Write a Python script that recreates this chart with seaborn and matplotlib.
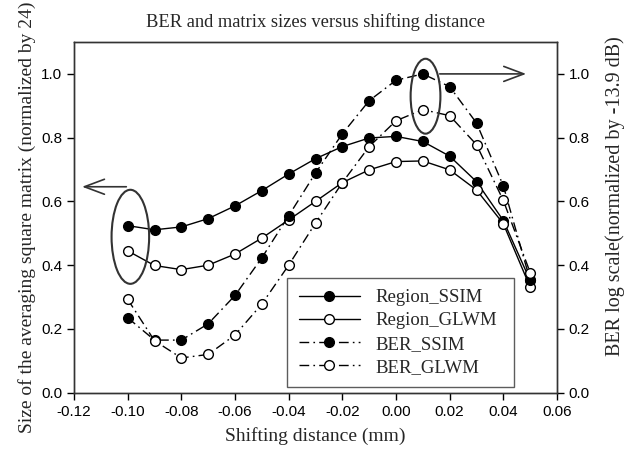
import numpy as np
import pandas as pd
import matplotlib
matplotlib.use("Agg")
import matplotlib.pyplot as plt
from matplotlib.patches import Ellipse
from matplotlib.lines import Line2D
import seaborn as sns

shift = [-0.10, -0.09, -0.08, -0.07, -0.06, -0.05, -0.04, -0.03, -0.02, -0.01,
         0.00, 0.01, 0.02, 0.03, 0.04, 0.05]
region_ssim = [0.524, 0.511, 0.520, 0.546, 0.586, 0.634, 0.686, 0.734, 0.772, 0.799,
               0.804, 0.788, 0.742, 0.662, 0.540, 0.352]
region_glwm = [0.445, 0.399, 0.386, 0.400, 0.435, 0.485, 0.542, 0.600, 0.659, 0.699,
               0.725, 0.727, 0.699, 0.636, 0.530, 0.331]
ber_ssim = [0.235, 0.165, 0.165, 0.216, 0.305, 0.423, 0.555, 0.689, 0.812, 0.916,
            0.980, 1.000, 0.960, 0.846, 0.649, 0.352]
ber_glwm = [0.293, 0.163, 0.109, 0.120, 0.181, 0.278, 0.400, 0.532, 0.659, 0.772,
            0.853, 0.888, 0.869, 0.778, 0.603, 0.377]
series_names = ["Region_SSIM", "Region_GLWM", "BER_SSIM", "BER_GLWM"]
yticks = [0.0, 0.2, 0.4, 0.6, 0.8, 1.0]
xticks = [-0.12, -0.10, -0.08, -0.06, -0.04, -0.02, 0.00, 0.02, 0.04, 0.06]

sns.set_style("ticks")
plt.rcParams["font.family"] = ["Liberation Sans", "DejaVu Sans"]
serif = ["Liberation Serif", "DejaVu Serif"]

fig = plt.figure(figsize=(6.25, 4.49), dpi=100)
ax = fig.add_axes([0.1184, 0.1254, 0.7728, 0.781])

dashdot = (7, 3, 1.2, 3)
styles = {
    "Region_SSIM": dict(mfc="black", ls="-"),
    "Region_GLWM": dict(mfc="white", ls="-"),
    "BER_SSIM": dict(mfc="black", ls="dd"),
    "BER_GLWM": dict(mfc="white", ls="dd"),
}
values = {"Region_SSIM": region_ssim, "Region_GLWM": region_glwm,
          "BER_SSIM": ber_ssim, "BER_GLWM": ber_glwm}

handles = []
for name in series_names:
    df = pd.DataFrame({"x": shift, "y": values[name]})
    st = styles[name]
    sns.lineplot(data=df, x="x", y="y", ax=ax, color="black", lw=1.0,
                 marker="o", markersize=7, markerfacecolor=st["mfc"],
                 markeredgecolor="black", markeredgewidth=1.0, zorder=3)
    line = ax.lines[-1]
    if st["ls"] == "dd":
        line.set_dashes(dashdot)
    h = Line2D([], [], color="black", lw=1.0, marker="o", markersize=7,
               markerfacecolor=st["mfc"], markeredgecolor="black")
    if st["ls"] == "dd":
        h.set_dashes(dashdot)
    handles.append(h)

ax.set_xlim(-0.12, 0.06)
ax.set_ylim(0, 1.1)
ax.set_xticks(xticks)
ax.set_xticklabels([f"{v:.2f}" for v in xticks])
ax.set_yticks(yticks)
ax.set_yticklabels([f"{v:.1f}" for v in yticks])
ax.tick_params(labelsize=11, direction="out", length=5, width=1, colors="black")
for s in ax.spines.values():
    s.set_linewidth(1.0)
    s.set_color("#333333")
    s.set_visible(True)

ax.set_xlabel("Shifting distance (mm)", family=serif, fontsize=14, labelpad=6)
ax.set_ylabel("Size of the averaging square matrix (normalized by 24)", family=serif,
              fontsize=14, labelpad=4)
ax.set_title("BER and matrix sizes versus shifting distance", family=serif,
             fontsize=13.3, pad=11)

ax2 = ax.twinx()
ax2.set_ylim(0, 1.1)
ax2.set_yticks(yticks)
ax2.set_yticklabels([f"{v:.1f}" for v in yticks])
ax2.tick_params(labelsize=11, direction="out", length=5, width=1, colors="black")
ax2.set_ylabel("BER log scale(normalized by -13.9 dB)", family=serif, fontsize=14.5)
ax2.yaxis.set_label_coords(1.10, 0.561)
for s in ax2.spines.values():
    s.set_linewidth(1.0)
    s.set_color("#333333")

# annotations: ellipses and arrows
ax.add_patch(Ellipse((-0.0990, 0.489), 0.014, 0.295, fill=False, ec="#333333", lw=1.5, zorder=4))
ax.add_patch(Ellipse((0.0110, 0.930), 0.0111, 0.235, fill=False, ec="#333333", lw=1.5, zorder=4))
ax.annotate("", xy=(-0.1170, 0.646), xytext=(-0.1005, 0.646),
            arrowprops=dict(arrowstyle="->,head_length=1.2,head_width=0.45",
                            color="#333333", lw=1.2, mutation_scale=12,
                            shrinkA=0, shrinkB=0))
ax.annotate("", xy=(0.0485, 1.0), xytext=(0.0163, 1.0),
            arrowprops=dict(arrowstyle="->,head_length=1.2,head_width=0.45",
                            color="#333333", lw=1.2, mutation_scale=12,
                            shrinkA=0, shrinkB=0))

leg = ax.legend(handles, series_names, loc="lower left",
                bbox_to_anchor=(0.4416, 0.0154, 0.47, 0.322), mode="expand",
                borderaxespad=0,
                prop={"family": serif, "size": 13.5}, handlelength=3.3,
                frameon=True, fancybox=False, borderpad=0.6, labelspacing=0.33,
                handletextpad=0.8)
leg.get_frame().set_edgecolor("#333333")
leg.get_frame().set_linewidth(1.0)

fig.savefig("out.png", dpi=100)
